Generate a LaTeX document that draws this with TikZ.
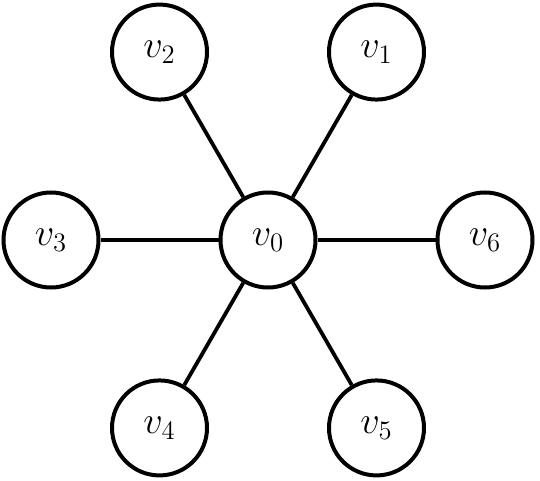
\documentclass[tikz,border=0pt]{standalone}
\begin{document}
\begin{tikzpicture}[x=1pt,y=-1pt,
  vert/.style={circle,draw,line width=4pt,minimum size=95pt,inner sep=0pt,font=\huge},
  edge/.style={line width=3.8pt}]
\useasboundingbox (0,0) rectangle (540,481);
\node[vert] (v0) at (268,240) {\scalebox{1.85}{$v_0$}};
\foreach \i/\a in {1/60,2/120,3/180,4/240,5/300,6/0}{
  \node[vert] (v\i) at ([shift={(268,240)}]\a:217pt) {\scalebox{1.85}{$v_\i$}};
}
\foreach \i in {1,...,6}{ \draw[edge] (v0) -- (v\i); }
\end{tikzpicture}
\end{document}
